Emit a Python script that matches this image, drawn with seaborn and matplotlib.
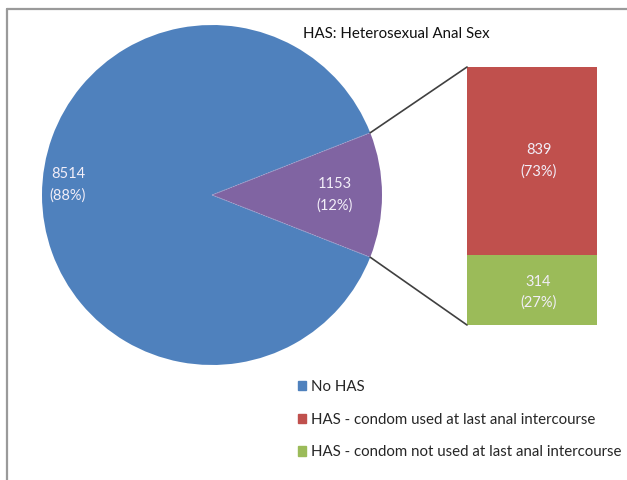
import matplotlib
matplotlib.use("Agg")
import matplotlib.pyplot as plt
import seaborn as sns
import numpy as np
import pandas as pd
from matplotlib.patches import Patch, ConnectionPatch
from matplotlib.lines import Line2D

# ---- data ----
pie_labels = ["HAS", "No HAS"]
pie_values = [1153, 8514]
pie_pct = ["12%", "88%"]
bar_labels = ["HAS - condom used at last anal intercourse",
              "HAS - condom not used at last anal intercourse"]
bar_values = [839, 314]
bar_pct = ["73%", "27%"]
title = "HAS: Heterosexual Anal Sex"
legend_labels = ["No HAS",
                 "HAS - condom used at last anal intercourse",
                 "HAS - condom not used at last anal intercourse"]

BLUE = "#4F81BD"
PURPLE = "#8064A2"
RED = "#C0504D"
GREEN = "#9BBB59"
LABEL_C = "#F2EEF8"

sns.set_theme(style="white")
plt.rcParams["font.family"] = ["Lato", "DejaVu Sans"]

W, H = 627, 480
fig = plt.figure(figsize=(W / 100, H / 100), dpi=100)
fig.patch.set_facecolor("white")

# main axes in pixel coordinates (y up)
ax = fig.add_axes([0, 0, 1, 1])
cx, cy, R = 212, H - 195, 170
total = sum(pie_values)
half = pie_values[0] / total * 360 / 2
wedges, _ = ax.pie(pie_values, colors=[PURPLE, BLUE], startangle=-half,
                   center=(cx, cy), radius=R, counterclock=True,
                   wedgeprops=dict(linewidth=0),
                   frame=True)
ax.set_xlim(0, W)
ax.set_ylim(0, H)
ax.set_aspect("equal")
ax.axis("off")

# faint separator lines between the slices
for ang in (half, -half):
    a = np.deg2rad(ang)
    ax.plot([cx, cx + R * np.cos(a)], [cy, cy + R * np.sin(a)],
            color="#A9A0CC", linewidth=0.6, linestyle=(0, (2, 1)))

# pie labels
label_pos = [(0.0, 0.72), (176.0, 0.85)]
for (ang, frac), v, p in zip(label_pos, pie_values, pie_pct):
    a = np.deg2rad(ang)
    ax.text(cx + R * frac * np.cos(a), cy + R * frac * np.sin(a),
            f"{v}\n({p})", ha="center", va="center", color=LABEL_C,
            fontsize=10.5, linespacing=1.6)

# title
ax.text(303, H - 34, title, ha="left", va="center", fontsize=10.8, color="#111111")

# stacked bar axes
bx0, bx1, by_top, by_bot = 467, 597, 67, 325
bax = fig.add_axes([bx0 / W, (H - by_bot) / H, (bx1 - bx0) / W, (by_bot - by_top) / H])
df_tot = pd.DataFrame({"x": ["HAS"], "y": [sum(bar_values)]})
df_bot = pd.DataFrame({"x": ["HAS"], "y": [bar_values[1]]})
sns.barplot(data=df_tot, x="x", y="y", color=RED, saturation=1, width=1,
            ax=bax, linewidth=0)
sns.barplot(data=df_bot, x="x", y="y", color=GREEN, saturation=1, width=1,
            ax=bax, linewidth=0)
bax.set_xlim(-0.5, 0.5)
bax.set_ylim(0, sum(bar_values))
bax.axis("off")
bax.text(0.05, bar_values[1] + bar_values[0] / 2, f"{bar_values[0]}\n({bar_pct[0]})",
         ha="center", va="center", color=LABEL_C, fontsize=10.5, linespacing=1.6)
bax.text(0.05, bar_values[1] / 2 - 12, f"{bar_values[1]}\n({bar_pct[1]})",
         ha="center", va="center", color=LABEL_C, fontsize=10.5, linespacing=1.6)

# connector lines
for ang, ybar in [(half, sum(bar_values)), (-half, 0)]:
    a = np.deg2rad(ang)
    p1 = (cx + R * np.cos(a), cy + R * np.sin(a))
    con = ConnectionPatch(xyA=p1, coordsA=ax.transData,
                          xyB=(-0.5, ybar), coordsB=bax.transData,
                          color="#404040", linewidth=1.2)
    fig.add_artist(con)

# legend
handles = [Patch(facecolor=c, edgecolor=c) for c in [BLUE, RED, GREEN]]
fig.legend(handles, legend_labels, loc="upper left",
           bbox_to_anchor=(295 / W, 1 - 377 / H), frameon=False,
           fontsize=10.8, handlelength=0.55, handleheight=0.6, handletextpad=0.3,
           labelspacing=1.25, borderaxespad=0, borderpad=0.2)

# chart frame (left and top edges)
fig.add_artist(Line2D([7 / W, 7 / W], [0, 1 - 9 / H], transform=fig.transFigure,
                      color="#9A9A9A", linewidth=1.6))
fig.add_artist(Line2D([7 / W, 1], [1 - 9 / H, 1 - 9 / H], transform=fig.transFigure,
                      color="#9A9A9A", linewidth=1.6))

fig.savefig("out.png", dpi=100, facecolor="white")
